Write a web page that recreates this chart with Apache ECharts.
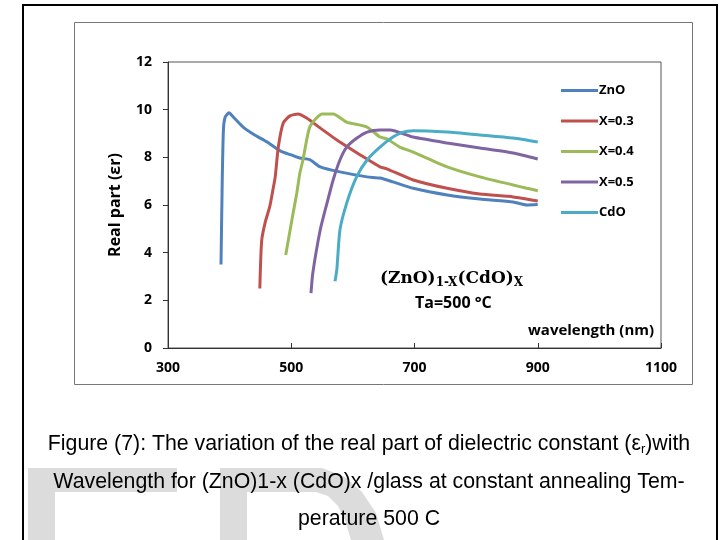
<!DOCTYPE html>
<html>
<head>
<meta charset="utf-8">
<script src="https://cdn.jsdelivr.net/npm/echarts@6/dist/echarts.min.js"></script>
<style>
  html, body { margin: 0; padding: 0; background: #fff; }
  #chart { width: 726px; height: 540px; }
</style>
</head>
<body>
<div id="chart"></div>
<script>
  // wavelength (nm), real part of dielectric constant
  const zno = [[386, 3.5], [388, 7.0], [390, 9.2], [393, 9.7], [399, 9.87], [405, 9.72], [422, 9.27], [440, 8.95], [461, 8.64], [482, 8.27], [500, 8.1], [514, 7.97], [530, 7.9], [547, 7.6], [579, 7.39], [623, 7.18], [644, 7.13], [665, 6.97], [698, 6.7], [753, 6.42], [806, 6.25], [860, 6.13], [882, 6.0], [900, 6.02]]
  const x03 = [[449, 2.5], [452, 4.5], [458, 5.3], [465, 5.92], [470, 6.6], [474, 7.18], [479, 8.43], [487, 9.44], [498, 9.74], [511, 9.82], [525, 9.65], [547, 9.23], [579, 8.64], [612, 8.1], [644, 7.6], [655, 7.52], [698, 7.05], [753, 6.7], [806, 6.46], [860, 6.34], [900, 6.17]]
  const x04 = [[491, 3.9], [501, 5.37], [509, 6.5], [514, 7.34], [519, 7.89], [525, 8.73], [530, 9.27], [541, 9.65], [550, 9.82], [568, 9.82], [590, 9.48], [623, 9.27], [644, 8.85], [655, 8.78], [676, 8.43], [698, 8.22], [753, 7.6], [806, 7.18], [860, 6.84], [882, 6.7], [900, 6.6]]
  const x05 = [[532, 2.3], [535, 3.15], [547, 4.95], [558, 6.08], [568, 7.05], [579, 7.89], [590, 8.43], [606, 8.8], [623, 9.06], [644, 9.15], [660, 9.15], [698, 8.85], [753, 8.6], [806, 8.39], [860, 8.18], [900, 7.93]]
  const cdo = [[571, 2.8], [574, 3.3], [579, 4.95], [590, 6.08], [606, 7.18], [623, 7.89], [644, 8.43], [665, 8.85], [680, 9.05], [698, 9.12], [753, 9.06], [806, 8.94], [860, 8.81], [900, 8.64]]

  const seriesNames = ['ZnO', 'X=0.3', 'X=0.4', 'X=0.5', 'CdO']
  const seriesData = [zno, x03, x04, x05, cdo]
  const colors = ['#4F81BD', '#C0504D', '#9BBB59', '#8064A2', '#4BACC6']

  const captionLines = [
    'Figure (7): The variation of the real part of dielectric constant (ε{s|r})with',
    'Wavelength for (ZnO)1-x (CdO)x /glass at constant annealing Tem-',
    'perature 500 C'
  ]

  const labelFont = { fontFamily: 'Open Sans', fontWeight: 'bold', fontSize: 14, color: '#000' }
  const capFont = 'Liberation Sans'

  const chart = echarts.init(document.getElementById('chart'))

  chart.setOption({
    animation: false,
    color: colors,
    grid: {
      left: 168,
      top: 62,
      right: 65,
      bottom: 192,
      show: true,
      borderColor: '#555',
      borderWidth: 1
    },
    legend: {
      orient: 'vertical',
      left: 556,
      top: 79,
      icon: 'rect',
      itemWidth: 37,
      itemHeight: 3,
      itemGap: 17.5,
      textStyle: Object.assign({}, labelFont, { fontSize: 13, padding: [0, 0, 0, -4] }),
      data: seriesNames
    },
    xAxis: {
      type: 'value',
      min: 300,
      max: 1100,
      interval: 200,
      splitLine: { show: false },
      axisLine: { lineStyle: { color: '#333' } },
      axisTick: { show: true, inside: true, length: 5, lineStyle: { color: '#333' } },
      axisLabel: Object.assign({}, labelFont, { margin: 13, formatter: v => String(v) })
    },
    yAxis: {
      type: 'value',
      min: 0,
      max: 12,
      interval: 2,
      name: 'Real part (εr)',
      nameLocation: 'middle',
      nameGap: 45,
      nameTextStyle: Object.assign({}, labelFont, { fontSize: 16 }),
      splitLine: { show: false },
      axisLine: { show: true, lineStyle: { color: '#333' } },
      axisTick: { show: true, length: 5, lineStyle: { color: '#333' } },
      axisLabel: Object.assign({}, labelFont, { margin: 16 })
    },
    series: seriesNames.map((name, i) => ({
      name: name,
      type: 'line',
      data: seriesData[i],
      symbol: 'none',
      smooth: 0.2,
      lineStyle: { width: 3, color: colors[i] }
    })),
    graphic: [
      // outer page frame
      {
        type: 'polyline',
        shape: { points: [[23, 540], [23, 5], [717, 5], [717, 540]] },
        style: { stroke: '#000', lineWidth: 2, fill: null },
        silent: true
      },
      // chart box
      {
        type: 'rect',
        shape: { x: 74.5, y: 22.5, width: 618, height: 362 },
        style: { stroke: '#777', lineWidth: 1, fill: null },
        silent: true
      },
      // faded watermark letters
      {
        type: 'polygon',
        z: -1,
        shape: { points: [[28, 468], [177, 468], [177, 492], [55, 492], [55, 540], [28, 540]] },
        style: { fill: '#dcdcdc' },
        silent: true
      },
      {
        type: 'polygon',
        z: -1,
        shape: {
          points: [[220, 468], [322, 468], [345, 477], [362, 492], [376, 513], [384, 540],
            [351, 540], [345, 520], [338, 506], [328, 496], [316, 492], [247, 492], [247, 540], [220, 540]]
        },
        style: { fill: '#dcdcdc' },
        silent: true
      },
      {
        type: 'text',
        left: 380,
        top: 270,
        style: {
          text: '{a|(ZnO)}{b|1-X}{a|(CdO)}{b|X}',
          rich: {
            a: { fontFamily: 'DejaVu Serif', fontWeight: 'bold', fontSize: 17, fill: '#000' },
            b: { fontFamily: 'DejaVu Serif', fontWeight: 'bold', fontSize: 12, fill: '#000', padding: [9, 0, 0, 0] }
          }
        }
      },
      {
        type: 'text',
        left: 415,
        top: 295,
        style: { text: 'Ta=500 °C', font: 'bold 16px "Open Sans"', fill: '#000' }
      },
      {
        type: 'text',
        left: 528,
        top: 323,
        style: { text: 'wavelength (nm)', font: 'bold 15px "Open Sans"', fill: '#000' }
      },
      {
        type: 'text',
        x: 369,
        y: 444,
        style: {
          text: captionLines[0],
          align: 'center',
          verticalAlign: 'middle',
          rich: {
            s: { fontFamily: capFont, fontSize: 13, fill: '#000', padding: [10, 0, 0, 0] }
          },
          font: '21.3px ' + capFont,
          fill: '#000'
        }
      },
      {
        type: 'text',
        x: 369,
        y: 482,
        style: { text: captionLines[1], align: 'center', verticalAlign: 'middle', font: '21.3px ' + capFont, fill: '#000' }
      },
      {
        type: 'text',
        x: 369,
        y: 519,
        style: { text: captionLines[2], align: 'center', verticalAlign: 'middle', font: '21.3px ' + capFont, fill: '#000' }
      }
    ]
  })
</script>
</body>
</html>
